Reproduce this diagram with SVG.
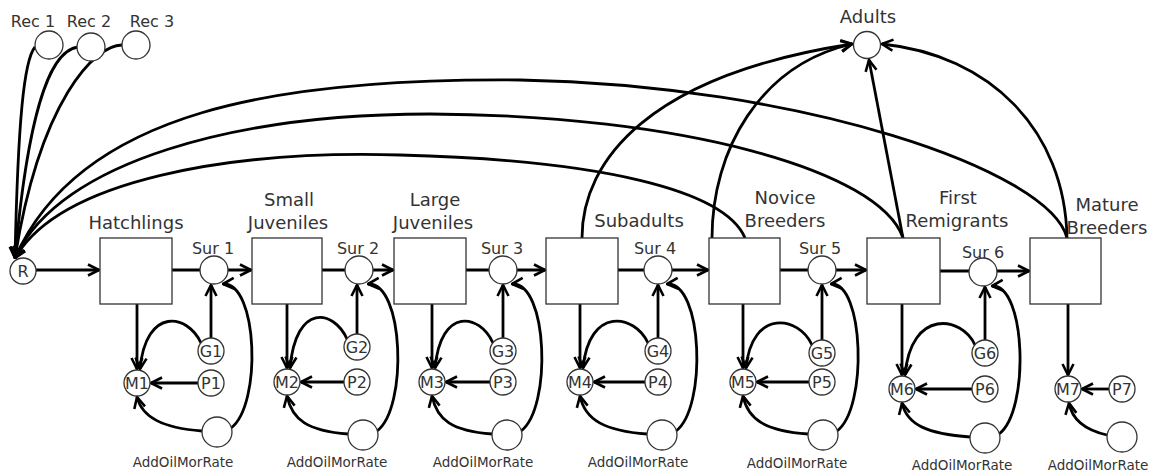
<svg xmlns="http://www.w3.org/2000/svg" width="1154" height="476" viewBox="0 0 1154 476">
<style>
.c{fill:none;stroke:#000;stroke-width:2.8}
.a{marker-end:url(#ah)}
.n{fill:#fff;stroke:#333;stroke-width:1.3}
.t{font-family:"DejaVu Sans",sans-serif;fill:#333;text-anchor:middle}
.bl{font-size:18px}
.sl{font-size:16px}
.cl{font-size:16px}
.al{font-size:13.5px}
</style>
<defs>
<marker id="ah" viewBox="0 0 14 14" refX="13" refY="7" markerWidth="14" markerHeight="14" markerUnits="userSpaceOnUse" orient="auto">
<path d="M2,1.5 L13,7 L2,12.5" fill="none" stroke="#000" stroke-width="2.6"/>
</marker>
</defs>
<rect width="1154" height="476" fill="#fff"/>
<g id="connectors">
<!-- Rec to R -->
<path class="c a" d="M35 47 C24 60,18 120,15 258"/>
<path class="c a" d="M78 47 C55 50,30 90,15 258"/>
<path class="c a" d="M122 45 C95 45,40 100,15 258"/>
<!-- long curves to R -->
<path class="c a" d="M1067 238 C1050 170,800 85,520 80 C280 78,80 110,15 258"/>
<path class="c a" d="M903 238 C880 170,680 115,430 114 C240 114,60 160,15 258"/>
<path class="c a" d="M745 238 C725 190,600 160,400 155 C230 150,60 180,15 258"/>
<!-- to Adults -->
<path class="c a" d="M582 238 C582 160,650 75,852 44"/>
<path class="c a" d="M712 238 C712 150,760 65,852 44"/>
<path class="c a" d="M1067 238 C1065 130,990 55,882 44"/>
<path class="c a" d="M903 238 L869 60"/>
<!-- R to Hatchlings -->
<path class="c a" d="M36 270 L99 270"/>
<!-- stage 1 -->
<path class="c a" d="M172 270 L251 270"/>
<path class="c a" d="M137 304 L137 369"/>
<path class="c a" d="M211 338 L211 285"/>
<path class="c a" d="M201 343 C188 314,146 306,140 369"/>
<path class="c a" d="M198 383 L151 383"/>
<path class="c a" d="M202 431 C162 428,142 417,137 397"/>
<path class="c a" d="M231 428 C262 405,258 282,223 284"/>
<!-- stage 2 -->
<path class="c a" d="M322 270 L393 270"/>
<path class="c a" d="M287 304 L287 368"/>
<path class="c a" d="M357 334 L357 285"/>
<path class="c a" d="M347 339 C334 310,296 302,290 368"/>
<path class="c a" d="M344 382 L301 382"/>
<path class="c a" d="M348 434 C308 431,292 420,287 396"/>
<path class="c a" d="M377 431 C408 408,404 282,368 284"/>
<!-- stage 3 -->
<path class="c a" d="M466 270 L545 270"/>
<path class="c a" d="M432 304 L432 368"/>
<path class="c a" d="M503 338 L503 285"/>
<path class="c a" d="M493 343 C480 314,441 306,435 368"/>
<path class="c a" d="M490 382 L446 382"/>
<path class="c a" d="M492 434 C452 431,437 420,432 396"/>
<path class="c a" d="M521 431 C552 408,548 282,512 284"/>
<!-- stage 4 -->
<path class="c a" d="M618 270 L708 270"/>
<path class="c a" d="M580 304 L580 368"/>
<path class="c a" d="M658 338 L658 285"/>
<path class="c a" d="M648 343 C635 314,589 306,583 368"/>
<path class="c a" d="M645 382 L594 382"/>
<path class="c a" d="M647 434 C605 431,585 420,580 396"/>
<path class="c a" d="M676 431 C707 408,703 282,667 284"/>
<!-- stage 5 -->
<path class="c a" d="M780 270 L866 270"/>
<path class="c a" d="M743 304 L743 368"/>
<path class="c a" d="M822 340 L822 285"/>
<path class="c a" d="M812 345 C799 316,752 308,746 368"/>
<path class="c a" d="M809 382 L757 382"/>
<path class="c a" d="M808 434 C766 431,748 420,743 396"/>
<path class="c a" d="M837 431 C868 408,864 282,831 284"/>
<!-- stage 6 -->
<path class="c a" d="M940 271 L1029 271"/>
<path class="c a" d="M902 304 L902 375"/>
<path class="c a" d="M985 340 L985 287"/>
<path class="c a" d="M975 345 C962 316,911 308,905 375"/>
<path class="c a" d="M972 389 L916 389"/>
<path class="c a" d="M970 437 C928 434,907 425,902 403"/>
<path class="c a" d="M999 434 C1030 411,1026 284,992 286"/>
<!-- stage 7 -->
<path class="c a" d="M1068 304 L1068 375"/>
<path class="c a" d="M1109 389 L1082 389"/>
<path class="c a" d="M1107 435 C1085 430,1072 420,1069 403"/>
</g>

<g id="rec1"><circle class="n" cx="49" cy="45" r="14"/><text class="t sl" x="33" y="27" font-size="15">Rec 1</text></g>
<g id="rec2"><circle class="n" cx="91" cy="47" r="14"/><text class="t sl" x="89" y="27">Rec 2</text></g>
<g id="rec3"><circle class="n" cx="136" cy="45" r="14"/><text class="t sl" x="152" y="27">Rec 3</text></g>
<g id="adults"><circle class="n" cx="867" cy="45" r="13.5"/><text class="t bl" x="868" y="23">Adults</text></g>
<g id="R"><circle class="n" cx="23" cy="271" r="13"/><text class="t cl" x="23" y="277">R</text></g>

<g id="hatchlings"><rect class="n" x="100" y="238" width="72" height="66"/><text class="t bl" x="136" y="229">Hatchlings</text></g>
<g id="smalljuv"><rect class="n" x="252" y="238" width="70" height="66"/><text class="t bl" x="289" y="206">Small</text><text class="t bl" x="288" y="229">Juveniles</text></g>
<g id="largejuv"><rect class="n" x="394" y="238" width="72" height="66"/><text class="t bl" x="435" y="206">Large</text><text class="t bl" x="433" y="229">Juveniles</text></g>
<g id="subadults"><rect class="n" x="546" y="238" width="72" height="66"/><text class="t bl" x="639" y="227">Subadults</text></g>
<g id="novice"><rect class="n" x="709" y="238" width="71" height="66"/><text class="t bl" x="785" y="204">Novice</text><text class="t bl" x="785" y="227">Breeders</text></g>
<g id="firstrem"><rect class="n" x="867" y="238" width="73" height="66"/><text class="t bl" x="958" y="204">First</text><text class="t bl" x="957" y="227">Remigrants</text></g>
<g id="mature"><rect class="n" x="1030" y="238" width="71" height="66"/><text class="t bl" x="1107" y="211">Mature</text><text class="t bl" x="1107" y="234">Breeders</text></g>

<g id="sur1"><circle class="n" cx="214" cy="270" r="14"/><text class="t sl" x="213" y="254">Sur 1</text></g>
<g id="sur2"><circle class="n" cx="359" cy="270" r="14"/><text class="t sl" x="358" y="254">Sur 2</text></g>
<g id="sur3"><circle class="n" cx="503" cy="270" r="14"/><text class="t sl" x="502" y="254">Sur 3</text></g>
<g id="sur4"><circle class="n" cx="658" cy="270" r="14"/><text class="t sl" x="655" y="254">Sur 4</text></g>
<g id="sur5"><circle class="n" cx="822" cy="270" r="14"/><text class="t sl" x="820" y="254">Sur 5</text></g>
<g id="sur6"><circle class="n" cx="983" cy="272" r="14"/><text class="t sl" x="983" y="258">Sur 6</text></g>

<g id="m1"><circle class="n" cx="137" cy="383" r="13"/><text class="t cl" x="137" y="389">M1</text></g>
<g id="g1"><circle class="n" cx="211" cy="351" r="13"/><text class="t cl" x="211" y="357">G1</text></g>
<g id="p1"><circle class="n" cx="211" cy="383" r="13"/><text class="t cl" x="211" y="389">P1</text></g>
<g id="add1"><circle class="n" cx="217" cy="432" r="15"/><text class="t al" x="183" y="467">AddOilMorRate</text></g>

<g id="m2"><circle class="n" cx="287" cy="382" r="13"/><text class="t cl" x="287" y="388">M2</text></g>
<g id="g2"><circle class="n" cx="357" cy="347" r="13"/><text class="t cl" x="357" y="353">G2</text></g>
<g id="p2"><circle class="n" cx="357" cy="382" r="13"/><text class="t cl" x="357" y="388">P2</text></g>
<g id="add2"><circle class="n" cx="363" cy="435" r="15"/><text class="t al" x="337" y="467">AddOilMorRate</text></g>

<g id="m3"><circle class="n" cx="432" cy="382" r="13"/><text class="t cl" x="432" y="388">M3</text></g>
<g id="g3"><circle class="n" cx="503" cy="351" r="13"/><text class="t cl" x="503" y="357">G3</text></g>
<g id="p3"><circle class="n" cx="503" cy="382" r="13"/><text class="t cl" x="503" y="388">P3</text></g>
<g id="add3"><circle class="n" cx="507" cy="435" r="15"/><text class="t al" x="483" y="467">AddOilMorRate</text></g>

<g id="m4"><circle class="n" cx="580" cy="382" r="13"/><text class="t cl" x="580" y="388">M4</text></g>
<g id="g4"><circle class="n" cx="658" cy="351" r="13"/><text class="t cl" x="658" y="357">G4</text></g>
<g id="p4"><circle class="n" cx="658" cy="382" r="13"/><text class="t cl" x="658" y="388">P4</text></g>
<g id="add4"><circle class="n" cx="662" cy="435" r="15"/><text class="t al" x="638" y="467">AddOilMorRate</text></g>

<g id="m5"><circle class="n" cx="743" cy="382" r="13"/><text class="t cl" x="743" y="388">M5</text></g>
<g id="g5"><circle class="n" cx="822" cy="353" r="13"/><text class="t cl" x="822" y="359">G5</text></g>
<g id="p5"><circle class="n" cx="822" cy="382" r="13"/><text class="t cl" x="822" y="388">P5</text></g>
<g id="add5"><circle class="n" cx="823" cy="435" r="15"/><text class="t al" x="797" y="468">AddOilMorRate</text></g>

<g id="m6"><circle class="n" cx="902" cy="389" r="13"/><text class="t cl" x="902" y="395">M6</text></g>
<g id="g6"><circle class="n" cx="985" cy="353" r="13"/><text class="t cl" x="985" y="359">G6</text></g>
<g id="p6"><circle class="n" cx="985" cy="389" r="13"/><text class="t cl" x="985" y="395">P6</text></g>
<g id="add6"><circle class="n" cx="985" cy="438" r="15"/><text class="t al" x="962" y="470">AddOilMorRate</text></g>

<g id="m7"><circle class="n" cx="1068" cy="389" r="13"/><text class="t cl" x="1068" y="395">M7</text></g>
<g id="p7"><circle class="n" cx="1122" cy="389" r="13"/><text class="t cl" x="1122" y="395">P7</text></g>
<g id="add7"><circle class="n" cx="1122" cy="437" r="15"/><text class="t al" x="1098" y="470">AddOilMorRate</text></g>
</svg>
